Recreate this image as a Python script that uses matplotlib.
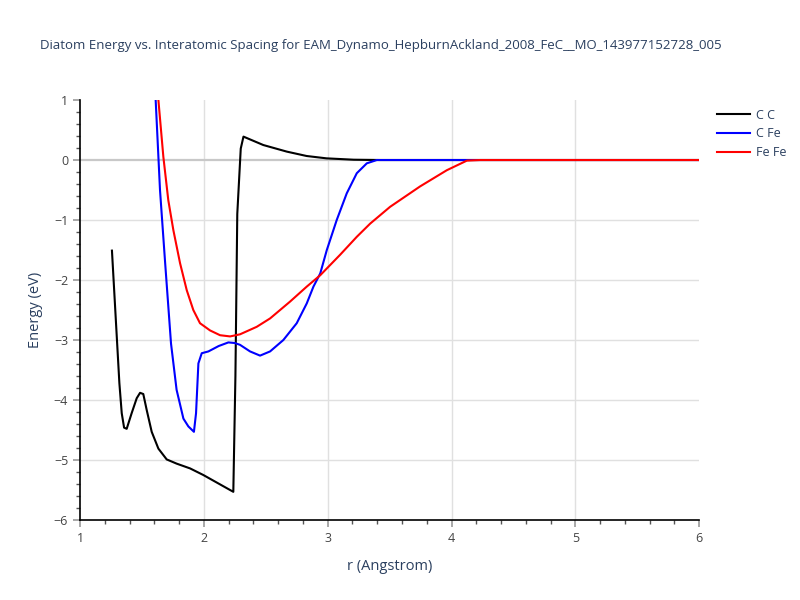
import matplotlib
matplotlib.use("Agg")
import matplotlib.pyplot as plt
from matplotlib.ticker import MultipleLocator

title = "Diatom Energy vs. Interatomic Spacing for EAM_Dynamo_HepburnAckland_2008_FeC__MO_143977152728_005"

cc_r = [1.258, 1.318, 1.337, 1.356, 1.377, 1.417, 1.458, 1.485, 1.511, 1.539, 1.579,
        1.633, 1.70, 1.78, 1.889, 1.996, 2.238, 2.255, 2.27, 2.298, 2.32, 2.48, 2.67,
        2.83, 2.99, 3.21, 3.42, 6.0]
cc_e = [-1.51, -3.72, -4.22, -4.46, -4.48, -4.22, -3.97, -3.88, -3.9, -4.17, -4.53,
        -4.81, -4.99, -5.06, -5.14, -5.25, -5.53, -3.6, -0.9, 0.19, 0.39, 0.25, 0.14,
        0.067, 0.028, 0.005, 0.0, 0.0]

cfe_r = [1.611, 1.646, 1.687, 1.735, 1.78, 1.835, 1.875, 1.92, 1.937, 1.956, 1.983,
         2.037, 2.12, 2.198, 2.25, 2.292, 2.373, 2.454, 2.535, 2.642, 2.75, 2.831,
         2.885, 2.94, 2.993, 3.073, 3.154, 3.235, 3.316, 3.397, 6.0]
cfe_e = [1.0, -0.5, -1.7, -3.06, -3.83, -4.31, -4.44, -4.53, -4.22, -3.39, -3.22,
         -3.19, -3.1, -3.04, -3.05, -3.08, -3.19, -3.26, -3.19, -3.0, -2.72, -2.39,
         -2.11, -1.89, -1.5, -1.0, -0.555, -0.22, -0.055, 0.0, 0.0]

fefe_r = [1.633, 1.673, 1.713, 1.754, 1.808, 1.862, 1.915, 1.969, 2.05, 2.131, 2.212,
          2.292, 2.427, 2.535, 2.696, 2.831, 2.94, 3.10, 3.235, 3.343, 3.504, 3.746,
          3.962, 4.124, 4.23, 6.0]
fefe_e = [1.0, 0.055, -0.67, -1.17, -1.72, -2.17, -2.5, -2.72, -2.84, -2.92, -2.94,
          -2.905, -2.78, -2.64, -2.36, -2.11, -1.92, -1.58, -1.28, -1.06, -0.78, -0.44,
          -0.17, -0.01, 0.0, 0.0]

series = [("C C", cc_r, cc_e, "black"),
          ("C Fe", cfe_r, cfe_e, "blue"),
          ("Fe Fe", fefe_r, fefe_e, "red")]

plt.rcParams["font.family"] = ["Open Sans", "DejaVu Sans"]
text_color = "#2a3f5f"
tick_color = "#444444"

fig = plt.figure(figsize=(8, 6), dpi=100)
ax = fig.add_axes([0.1, 0.1333, 0.774, 0.7])

for xv in [2, 3, 4, 5]:
    ax.axvline(xv, color="#e0e0e0", lw=1, zorder=0)
for yv in [-5, -4, -3, -2, -1]:
    ax.axhline(yv, color="#e0e0e0", lw=1, zorder=0)
ax.axhline(0, color="#c8c8c8", lw=1.6, zorder=0.5)

for name, r, e, c in series:
    ax.plot(r, e, color=c, lw=1.5, label=name)

ax.set_xlim(1, 6)
ax.set_ylim(-6, 1)
ax.xaxis.set_major_locator(MultipleLocator(1))
ax.yaxis.set_major_locator(MultipleLocator(1))
ax.xaxis.set_minor_locator(MultipleLocator(0.2))
ax.yaxis.set_minor_locator(MultipleLocator(0.2))
ax.tick_params(which="major", length=5, width=1.2, color="#999999",
               labelsize=9, labelcolor=tick_color, direction="out")
ax.tick_params(which="minor", length=3, width=1, color="#555555", direction="out")

for s in ["top", "right"]:
    ax.spines[s].set_visible(False)
for s in ["left", "bottom"]:
    ax.spines[s].set_color("black")
    ax.spines[s].set_linewidth(1.2)

ax.set_xlabel("r (Angstrom)", fontsize=10.5, color=text_color, labelpad=10)
ax.set_ylabel("Energy (eV)", fontsize=10.5, color=text_color, labelpad=8)

fig.text(0.05, 0.925, title, fontsize=9.5, color=text_color, ha="left", va="center")

ax.legend(loc="upper left", bbox_to_anchor=(1.015, 1.0), frameon=False,
          fontsize=9, labelcolor=text_color, handlelength=2.6,
          handletextpad=0.5, labelspacing=0.45, borderaxespad=0.3)

fig.savefig("out.png", dpi=100)
